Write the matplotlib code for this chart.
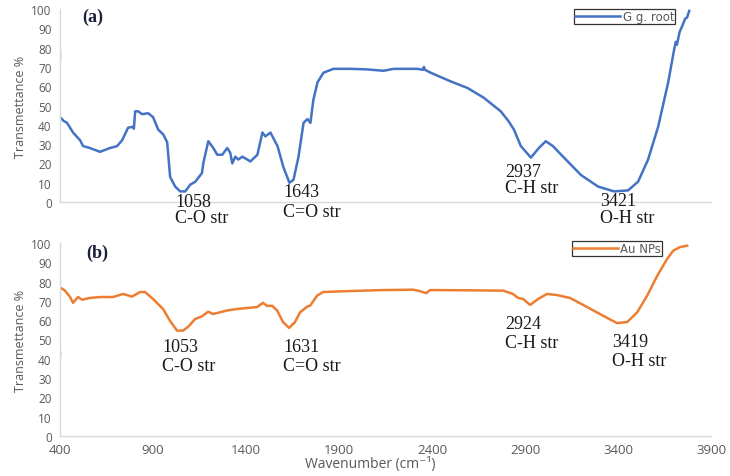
import matplotlib
matplotlib.use("Agg")
import matplotlib.pyplot as plt

# ---------------- data ----------------
wn_root = [400, 420, 438, 470, 508, 524, 560, 615, 669, 690, 707, 734, 766, 793, 797, 804, 820, 841, 874, 900,
           928, 955, 976, 992, 1019, 1046, 1073, 1100, 1127, 1163, 1170, 1197, 1224, 1245, 1272, 1299, 1315,
           1326, 1342, 1358, 1380, 1407, 1423, 1461, 1488, 1504, 1531, 1569, 1601, 1633, 1655, 1682, 1709,
           1730, 1746, 1762, 1784, 1816, 1870, 1962, 2053, 2139, 2193, 2322, 2350, 2356, 2362, 2392, 2500,
           2592, 2678, 2769, 2810, 2840, 2877, 2931, 2974, 3011, 3049, 3109, 3200, 3292, 3378, 3453, 3507,
           3561, 3615, 3669, 3701, 3710, 3716, 3730, 3739, 3748, 3760, 3770, 3782]
t_root = [44, 42, 41, 36, 32, 29, 28, 26, 28, 28.5, 29, 32, 38.5, 39, 38, 47, 47, 45.5, 46, 44,
          37.5, 35, 31, 13, 8, 5.5, 5.5, 9, 10.5, 15, 20, 31.5, 28, 24.5, 24.5, 28, 25.5,
          20, 23.5, 22, 23.5, 22, 21, 24.5, 36, 34, 36, 29, 18, 10, 11.5, 23.5, 41,
          43, 41, 53, 62, 67, 69, 69, 68.7, 68, 69, 69, 68.5, 70, 68.5, 67, 62.5,
          59, 54, 47, 42, 37.5, 29, 23, 28, 31.5, 29, 23, 14, 8, 5.5, 6, 10.5,
          22, 39, 62, 79, 83, 81.5, 88, 90, 92, 95, 95.5, 99]

wn_au = [400, 427, 454, 470, 497, 518, 560, 615, 685, 739, 787, 830, 857, 900, 954, 991, 1029, 1061, 1088,
         1126, 1163, 1196, 1223, 1297, 1351, 1405, 1459, 1491, 1513, 1540, 1567, 1599, 1631, 1663, 1690,
         1728, 1744, 1782, 1814, 1959, 2136, 2298, 2336, 2368, 2389, 2588, 2782, 2835, 2862, 2889, 2927,
         2970, 3018, 3072, 3142, 3233, 3319, 3394, 3448, 3502, 3556, 3610, 3663, 3696, 3733, 3771]
t_au = [77, 75.3, 72, 69, 72, 70.6, 71.5, 72, 72, 73.6, 72.2, 74.6, 74.6, 71, 65.8, 59.7, 54.6, 54.6, 56.5,
        60.6, 62, 64.4, 63.2, 65, 65.8, 66.3, 66.8, 69, 67.4, 67.5, 65, 59, 56, 59, 64,
        67, 67.5, 72.7, 74.6, 75.1, 75.6, 75.8, 75, 74, 75.6, 75.5, 75.3, 73.6, 71.5, 71, 67.9,
        71, 73.6, 73, 71.5, 66.8, 62.3, 58.5, 59, 64, 72.7, 83, 91.7, 96, 97.9, 98.6]

# small stray marks at the left edge of each panel
stray_a_wn = [400, 400]
stray_a_t = [74, 78]
stray_b_wn = [400, 400]
stray_b_t = [41.5, 44]

peaks_a = ["1058", "1643", "2937", "3421"]
bonds_a = ["C-O str", "C=O str", "C-H str", "O-H str"]
peaks_b = ["1053", "1631", "2924", "3419"]
bonds_b = ["C-O str", "C=O str", "C-H str", "O-H str"]

x_ticks = [400, 900, 1400, 1900, 2400, 2900, 3400, 3900]
y_ticks = [0, 10, 20, 30, 40, 50, 60, 70, 80, 90, 100]

# ---------------- style ----------------
blue = "#4472C4"
orange = "#ED7D31"
gray_txt = "#595959"
spine_c = "#D9D9D9"
tick_font = "Open Sans"
serif = ["Liberation Serif", "DejaVu Serif"]

fig = plt.figure(figsize=(7.3, 4.77), dpi=100)
ax1 = fig.add_axes([0.0822, 0.5744, 0.892, 0.4046])
ax2 = fig.add_axes([0.0822, 0.0839, 0.892, 0.4046])

ax1.plot(wn_root, t_root, color=blue, lw=1.8, label="G g. root", solid_joinstyle="round")
ax1.plot(stray_a_wn, stray_a_t, color=orange, lw=1.0)
ax2.plot(wn_au, t_au, color=orange, lw=1.8, label="Au NPs", solid_joinstyle="round")
ax2.plot(stray_b_wn, stray_b_t, color=blue, lw=1.0)

for ax in (ax1, ax2):
    ax.set_xlim(400, 3900)
    ax.set_ylim(0, 100)
    ax.set_xticks(x_ticks)
    ax.set_yticks(y_ticks)
    for s in ("top", "right"):
        ax.spines[s].set_visible(False)
    for s in ("left", "bottom"):
        ax.spines[s].set_color(spine_c)
        ax.spines[s].set_linewidth(1.0)
    ax.tick_params(length=0, colors=gray_txt, pad=6)
    ax.tick_params(axis="y", labelsize=8.5)
    ax.tick_params(axis="x", labelsize=9.5, pad=5)
    for lab in ax.get_yticklabels() + ax.get_xticklabels():
        lab.set_fontfamily(tick_font)
    ax.set_ylabel("Transmettance %", color=gray_txt, fontsize=9, fontfamily=tick_font, labelpad=3)

ax1.set_xticklabels([])
fig.text(0.507, 0.026, "Wavenumber (cm\u207b\u00b9)", color=gray_txt, fontsize=10,
         family=["Open Sans", "DejaVu Sans"], ha="center", va="center")

# legends
for ax, anchor in ((ax1, (0.945, 1.0)), (ax2, (0.925, 1.01))):
    leg = ax.legend(loc="upper right", bbox_to_anchor=anchor, frameon=True,
                    fancybox=False, handlelength=3.8, handletextpad=0.2, borderpad=0.1,
                    borderaxespad=0.0, prop={"family": "DejaVu Sans", "size": 8.5})
    leg.get_frame().set_edgecolor("black")
    leg.get_frame().set_linewidth(0.9)
    for t in leg.get_texts():
        t.set_color(gray_txt)

# panel labels
ax1.text(0.034, 0.964, "(a)", transform=ax1.transAxes, fontsize=13, fontweight="bold",
         family=serif, color="#1b1f3b", ha="left", va="center")
ax2.text(0.041, 0.953, "(b)", transform=ax2.transAxes, fontsize=13, fontweight="bold",
         family=serif, color="#1b1f3b", ha="left", va="center")

# annotations (x in wavenumber, y in % for the number line and the bond line)
pos_a = [(1018, 0.5, -7.8), (1599, 5.7, -4.7), (2792, 16.0, 7.3), (3303, 1.0, -7.8)]
pos_b = [(948, 46.6, 36.3), (1599, 46.6, 36.3), (2792, 58.5, 48.2), (3367, 49.2, 38.9)]
for ax, peaks, bonds, pos in ((ax1, peaks_a, bonds_a, pos_a), (ax2, peaks_b, bonds_b, pos_b)):
    for p, b, (x, y1, y2) in zip(peaks, bonds, pos):
        ax.text(x, y1, p, fontsize=13, family=serif, color="#1a1a1a", ha="left", va="center")
        ax.text(x, y2, b, fontsize=13, family=serif, color="#1a1a1a", ha="left", va="center")

fig.savefig("out.png", dpi=100)
